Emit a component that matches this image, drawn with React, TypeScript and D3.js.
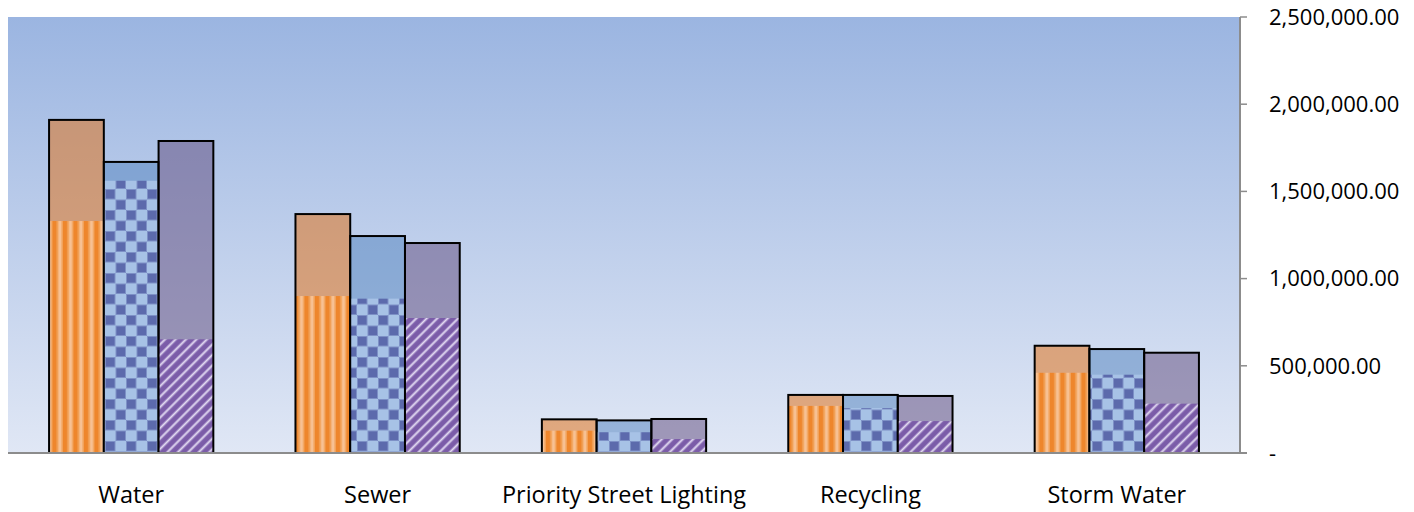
import React from "react";
import * as d3 from "d3";

const categories = ["Water", "Sewer", "Priority Street Lighting", "Recycling", "Storm Water"];

// Outer (outlined, translucent) bars
const budget1 = [1910000, 1370000, 193000, 333000, 615000];
const budget2 = [1669000, 1244000, 187000, 333000, 596000];
const budget3 = [1789000, 1204000, 195000, 327000, 575000];

// Inner (patterned) bars
const actual1 = [1330000, 900000, 128000, 270000, 460000];
const actual2 = [1561000, 885000, 119000, 258000, 449000];
const actual3 = [652000, 774000, 80000, 183000, 283000];

const yTicks = [0, 500000, 1000000, 1500000, 2000000, 2500000];

const outerSeries = [budget1, budget2, budget3];
const innerSeries = [actual1, actual2, actual3];
const outerFills = ["rgba(228,108,10,0.5)", "rgba(79,129,189,0.5)", "rgba(96,74,123,0.5)"];
const innerFills = ["url(#pOrange)", "url(#pBlue)", "url(#pPurple)"];

const W = 1414;
const H = 512;
const LEFT = 8;
const RIGHT = 1240;
const TOP = 17;
const BOTTOM = 453;
const FONT = "'Open Sans', 'DejaVu Sans', sans-serif";

export default function App() {
  const x0 = d3.scaleBand<string>().domain(categories).range([LEFT, RIGHT]).padding(0);
  const slot = x0.bandwidth();
  const gw = (slot * 3) / 4.5;
  const x1 = d3.scaleBand<number>().domain([0, 1, 2]).range([0, gw]).padding(0);
  const y = d3.scaleLinear().domain([0, 2500000]).range([BOTTOM, TOP]);
  const fmt = d3.format(",.2f");

  return (
    <svg
      width={W}
      height={H}
      style={{ position: "absolute", left: 0, top: 0, background: "#fff" }}
      xmlns="http://www.w3.org/2000/svg"
    >
      <defs>
        <linearGradient id="bg" x1="0" y1="0" x2="0" y2="1">
          <stop offset="0" stopColor="#9BB5E1" />
          <stop offset="1" stopColor="#E0E7F5" />
        </linearGradient>
        <pattern id="pOrange" patternUnits="userSpaceOnUse" width={10.5} height={10}>
          <rect x={0} y={0} width={10.5} height={10} fill="#F7C194" />
          <rect x={0} y={0} width={4.5} height={10} fill="#EE862C" />
          <rect x={4.5} y={0} width={1.5} height={10} fill="#F2A259" />
          <rect x={9} y={0} width={1.5} height={10} fill="#F2A259" />
        </pattern>
        <pattern id="pBlue" patternUnits="userSpaceOnUse" width={21} height={21}>
          <rect x={0} y={0} width={21} height={21} fill="#A7C2E6" />
          <rect x={0} y={0} width={10.5} height={10.5} fill="#7D90C6" />
          <rect x={10.5} y={10.5} width={10.5} height={10.5} fill="#7D90C6" />
          <rect x={1} y={1} width={8.5} height={8.5} fill="#5C6AAC" />
          <rect x={11.5} y={11.5} width={8.5} height={8.5} fill="#5C6AAC" />
        </pattern>
        <pattern
          id="pPurple"
          patternUnits="userSpaceOnUse"
          width={7.4}
          height={10}
          patternTransform="rotate(45)"
        >
          <rect x={0} y={0} width={7.4} height={10} fill="#7B5CA8" />
          <rect x={0} y={0} width={3} height={10} fill="#A48CC9" />
          <rect x={0.8} y={0} width={1.4} height={10} fill="#E2DAF0" />
        </pattern>
      </defs>

      <rect x={LEFT} y={TOP} width={RIGHT - LEFT} height={BOTTOM - TOP} fill="url(#bg)" />

      {categories.map((c, i) => {
        const gx = (x0(c) as number) + (slot - gw) / 2;
        return (
          <g key={c}>
            {outerSeries.map((s, k) => {
              const bx = gx + (x1(k) as number);
              const bw = x1.bandwidth();
              const oy = y(s[i]);
              const iy = y(innerSeries[k][i]);
              return (
                <g key={k}>
                  <rect x={bx} y={oy} width={bw} height={BOTTOM - oy} fill={outerFills[k]} />
                  <rect x={bx} y={iy} width={bw} height={BOTTOM - iy} fill={innerFills[k]} />
                  <rect
                    x={bx}
                    y={oy}
                    width={bw}
                    height={BOTTOM - oy}
                    fill="none"
                    stroke="#000"
                    strokeWidth={2}
                  />
                </g>
              );
            })}
          </g>
        );
      })}

      {/* axes */}
      <line x1={LEFT} x2={RIGHT + 7} y1={BOTTOM} y2={BOTTOM} stroke="#8C8C8C" strokeWidth={2} />
      <line x1={RIGHT} x2={RIGHT} y1={TOP} y2={BOTTOM} stroke="#8C8C8C" strokeWidth={2} />
      {yTicks.map((t) => (
        <g key={t}>
          <line x1={RIGHT} x2={RIGHT + 7} y1={y(t)} y2={y(t)} stroke="#8C8C8C" strokeWidth={1.5} />
          <text
            x={1269}
            y={y(t)}
            dy="0.35em"
            fontFamily={FONT}
            fontSize={22}
            fill="#000"
            textAnchor="start"
          >
            {t === 0 ? "-" : fmt(t)}
          </text>
        </g>
      ))}
      {categories.map((c) => (
        <text
          key={c}
          x={(x0(c) as number) + slot / 2}
          y={495}
          dy="0.35em"
          fontFamily={FONT}
          fontSize={23.5}
          fill="#000"
          textAnchor="middle"
        >
          {c}
        </text>
      ))}
    </svg>
  );
}
